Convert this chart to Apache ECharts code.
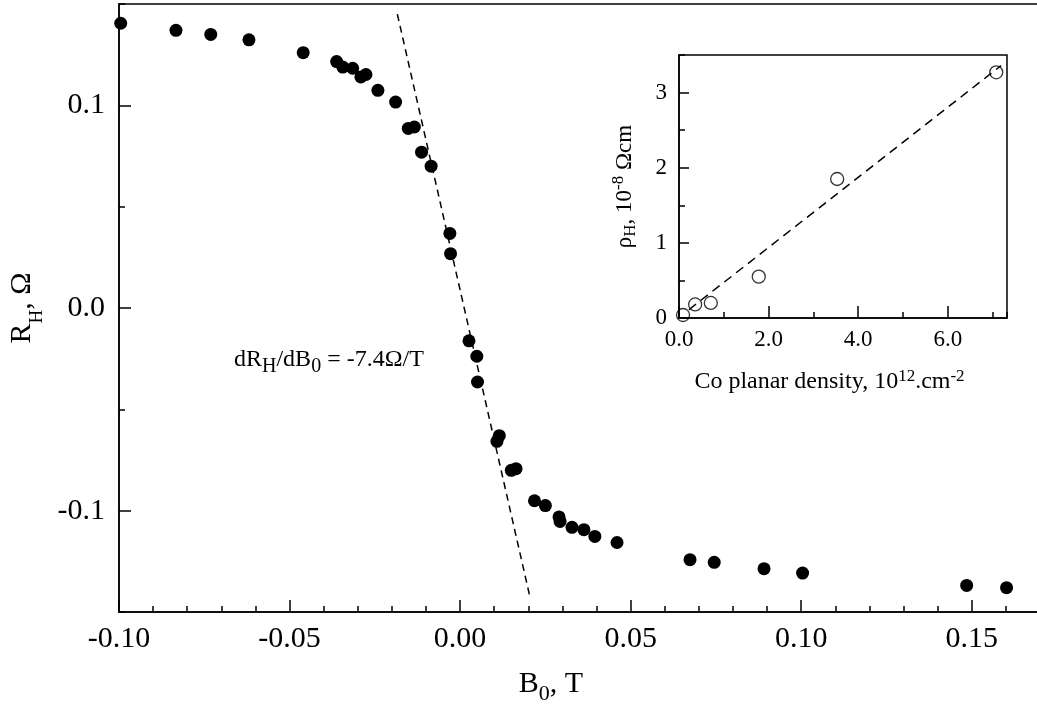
<!DOCTYPE html>
<html>
<head>
<meta charset="utf-8">
<script src="https://cdn.jsdelivr.net/npm/echarts@6/dist/echarts.min.js"></script>
<style>
  html, body { margin: 0; padding: 0; background: #fff; }
  #chart { width: 1037px; height: 708px; }
</style>
</head>
<body>
<div id="chart"></div>
<script>
// Hall resistance R_H (Ω) versus applied field B0 (T)
const fieldB0 = [
  -0.0995, -0.0833, -0.0731, -0.0619, -0.0460, -0.0362, -0.0344, -0.0315,
  -0.0291, -0.0276, -0.0241, -0.0189, -0.0152, -0.0134, -0.0113, -0.0085,
  -0.0030, -0.0028, 0.0026, 0.0049, 0.0051, 0.0108, 0.0115, 0.0150,
  0.0164, 0.0218, 0.0250, 0.0290, 0.0293, 0.0328, 0.0363, 0.0395,
  0.0460, 0.0674, 0.0745, 0.0891, 0.1004, 0.1485, 0.1602
];
const hallR = [
  0.1405, 0.1370, 0.1350, 0.1323, 0.1260, 0.1216, 0.1189, 0.1183,
  0.1140, 0.1152, 0.1074, 0.1016, 0.0886, 0.0893, 0.0769, 0.0700,
  0.0368, 0.0268, -0.0162, -0.0238, -0.0365, -0.0658, -0.0630, -0.0801,
  -0.0793, -0.0951, -0.0975, -0.1031, -0.1053, -0.1082, -0.1094, -0.1127,
  -0.1157, -0.1242, -0.1255, -0.1286, -0.1308, -0.1369, -0.1380
];
// Linear fit of the steep part, slope dR_H/dB0 = -7.4 Ω/T (segment ends)
const fitB0 = [-0.0184, 0.0205];
const fitR = [0.1450, -0.1428];

// Inset: Hall resistivity ρ_H (10^-8 Ωcm) versus Co planar density (10^12 cm^-2)
const coDensity = [0.09, 0.36, 0.71, 1.78, 3.53, 7.08];
const hallRho = [0.04, 0.18, 0.20, 0.55, 1.85, 3.27];
const insetFitX = [0.22, 7.19];
const insetFitY = [0.11, 3.36];

// Tick positions
const mainYTicks = [-0.1, 0.0, 0.1];
const insetXTicks = [0, 2, 4, 6];
const insetYTicks = [0, 1, 2, 3];

const FONT = 'Liberation Serif';
const INK = '#000';

// Rich-text styles with sub/superscripts: shifts are baseline offsets in px
function richSet(F, LH, fs, subShift, supShift) {
  const off = 0.3375 * (F - fs);
  const d = subShift + off;
  const u = supShift - off;
  return {
    n: { fontFamily: FONT, fontSize: F, lineHeight: LH, color: INK, verticalAlign: 'middle' },
    sub: { fontFamily: FONT, fontSize: fs, lineHeight: fs, color: INK, verticalAlign: 'middle',
           padding: [Math.max(0, 2 * d), 0, 0, 0] },
    sup: { fontFamily: FONT, fontSize: fs, lineHeight: fs, color: INK, verticalAlign: 'middle',
           padding: [0, 0, Math.max(0, 2 * u), 0] }
  };
}

const pairs = (xs, ys) => xs.map((x, i) => [x, ys[i]]);

const axisLineStyle = { show: true, onZero: false, lineStyle: { color: INK, width: 1.5 } };
const hidden = { show: false };
const hiddenLine = { show: false, onZero: false };
const tickStyle = { color: INK, width: 1.5 };

const chart = echarts.init(document.getElementById('chart'), null, { renderer: 'canvas' });

chart.setOption({
  animation: false,
  backgroundColor: '#fff',
  grid: [
    { left: 119, top: 4, right: -3, bottom: 96, show: true, borderColor: INK, borderWidth: 1.5,
      outerBoundsMode: 'none', containLabel: false },
    { left: 679, top: 55, right: 30, bottom: 390, show: true, borderColor: INK, borderWidth: 1.5,
      outerBoundsMode: 'none', containLabel: false }
  ],
  xAxis: [
    { // main field axis
      type: 'value', gridIndex: 0, position: 'bottom', min: -0.1, max: 0.17, interval: 0.05,
      axisLine: axisLineStyle,
      axisTick: { show: true, inside: true, length: 12, lineStyle: tickStyle },
      axisLabel: { fontFamily: FONT, fontSize: 30, color: INK, margin: 12, showMaxLabel: false,
                   formatter: v => v.toFixed(2) },
      splitLine: hidden,
      name: '{n|B}{sub|0}{n|, T}', nameLocation: 'middle', nameGap: 50,
      nameTextStyle: { rich: richSet(30, 44, 22, 7.3, 0), padding: [0, 57, 0, 0] }
    },
    { // main field axis, minor ticks
      type: 'value', gridIndex: 0, position: 'bottom', min: -0.1, max: 0.17, interval: 0.01,
      axisLine: hiddenLine, axisLabel: hidden, splitLine: hidden,
      axisTick: { show: true, inside: true, length: 6, lineStyle: tickStyle }
    },
    { // inset density axis
      type: 'value', gridIndex: 1, position: 'bottom', min: 0, max: 7.32,
      axisLine: axisLineStyle,
      axisTick: { show: true, inside: true, length: 12, customValues: insetXTicks, lineStyle: tickStyle },
      axisLabel: { fontFamily: FONT, fontSize: 23, color: INK, margin: 10, customValues: insetXTicks,
                   formatter: v => v.toFixed(1) },
      splitLine: hidden,
      name: '{n|Co planar density, 10}{sup|12}{n|.cm}{sup|-2}', nameLocation: 'middle', nameGap: 47,
      nameTextStyle: { rich: richSet(24, 34, 17, 0, 8.3), padding: [0, 27, 0, 0] }
    },
    { // inset density axis, minor ticks
      type: 'value', gridIndex: 1, position: 'bottom', min: 0, max: 7.32, interval: 1,
      axisLine: hiddenLine, axisLabel: hidden, splitLine: hidden,
      axisTick: { show: true, inside: true, length: 6, lineStyle: tickStyle }
    }
  ],
  yAxis: [
    { // main Hall resistance axis
      type: 'value', gridIndex: 0, position: 'left', min: -0.15, max: 0.15,
      axisLine: axisLineStyle,
      axisTick: { show: true, inside: true, length: 12, customValues: mainYTicks, lineStyle: tickStyle },
      axisLabel: { fontFamily: FONT, fontSize: 30, color: INK, margin: 14, customValues: mainYTicks,
                   formatter: v => v.toFixed(1) },
      splitLine: hidden,
      name: '{n|R}{sub|H}{n|, Ω}', nameLocation: 'middle', nameGap: 68,
      nameTextStyle: { rich: richSet(30, 50, 19, 11.5, 0) }
    },
    { // main Hall resistance axis, minor ticks
      type: 'value', gridIndex: 0, position: 'left', min: -0.15, max: 0.15, interval: 0.05,
      axisLine: hiddenLine, axisLabel: hidden, splitLine: hidden,
      axisTick: { show: true, inside: true, length: 6, lineStyle: tickStyle }
    },
    { // inset resistivity axis
      type: 'value', gridIndex: 1, position: 'left', min: 0, max: 3.5,
      axisLine: axisLineStyle,
      axisTick: { show: true, inside: true, length: 10, customValues: insetYTicks, lineStyle: tickStyle },
      axisLabel: { fontFamily: FONT, fontSize: 23, color: INK, margin: 12, customValues: insetYTicks,
                   formatter: v => String(v) },
      splitLine: hidden,
      name: '{n|ρ}{sub|H}{n|, 10}{sup|-8}{n| Ωcm}', nameLocation: 'middle', nameGap: 36,
      nameTextStyle: { rich: richSet(23, 36, 17, 4, 8) }
    },
    { // inset resistivity axis, minor ticks
      type: 'value', gridIndex: 1, position: 'left', min: 0, max: 3.5, interval: 0.5,
      axisLine: hiddenLine, axisLabel: hidden, splitLine: hidden,
      axisTick: { show: true, inside: true, length: 6, lineStyle: tickStyle }
    }
  ],
  series: [
    {
      name: 'fit', type: 'line', xAxisIndex: 0, yAxisIndex: 0,
      data: pairs(fitB0, fitR), symbol: 'none', silent: true,
      lineStyle: { color: INK, width: 1.5, type: [7, 5] }, z: 2
    },
    {
      name: 'R_H', type: 'scatter', xAxisIndex: 0, yAxisIndex: 0,
      data: pairs(fieldB0, hallR), symbol: 'circle', symbolSize: 13, clip: true,
      itemStyle: { color: INK, opacity: 1 }, z: 3
    },
    {
      name: 'inset fit', type: 'line', xAxisIndex: 2, yAxisIndex: 2,
      data: pairs(insetFitX, insetFitY), symbol: 'none', silent: true,
      lineStyle: { color: INK, width: 1.5, type: [9, 6] }, z: 4
    },
    {
      name: 'ρ_H', type: 'scatter', xAxisIndex: 2, yAxisIndex: 2,
      data: pairs(coDensity, hallRho), symbol: 'circle', symbolSize: 13, clip: true,
      itemStyle: { color: 'rgba(0,0,0,0)', borderColor: INK, borderWidth: 1.3 }, z: 4
    }
  ],
  graphic: [
    {
      type: 'text', left: 234, top: 342, z: 10,
      style: {
        text: '{n|dR}{sub|H}{n|/dB}{sub|0}{n| = -7.4Ω/T}',
        rich: richSet(24, 36, 20, 6, 0)
      }
    }
  ]
});
</script>
</body>
</html>
